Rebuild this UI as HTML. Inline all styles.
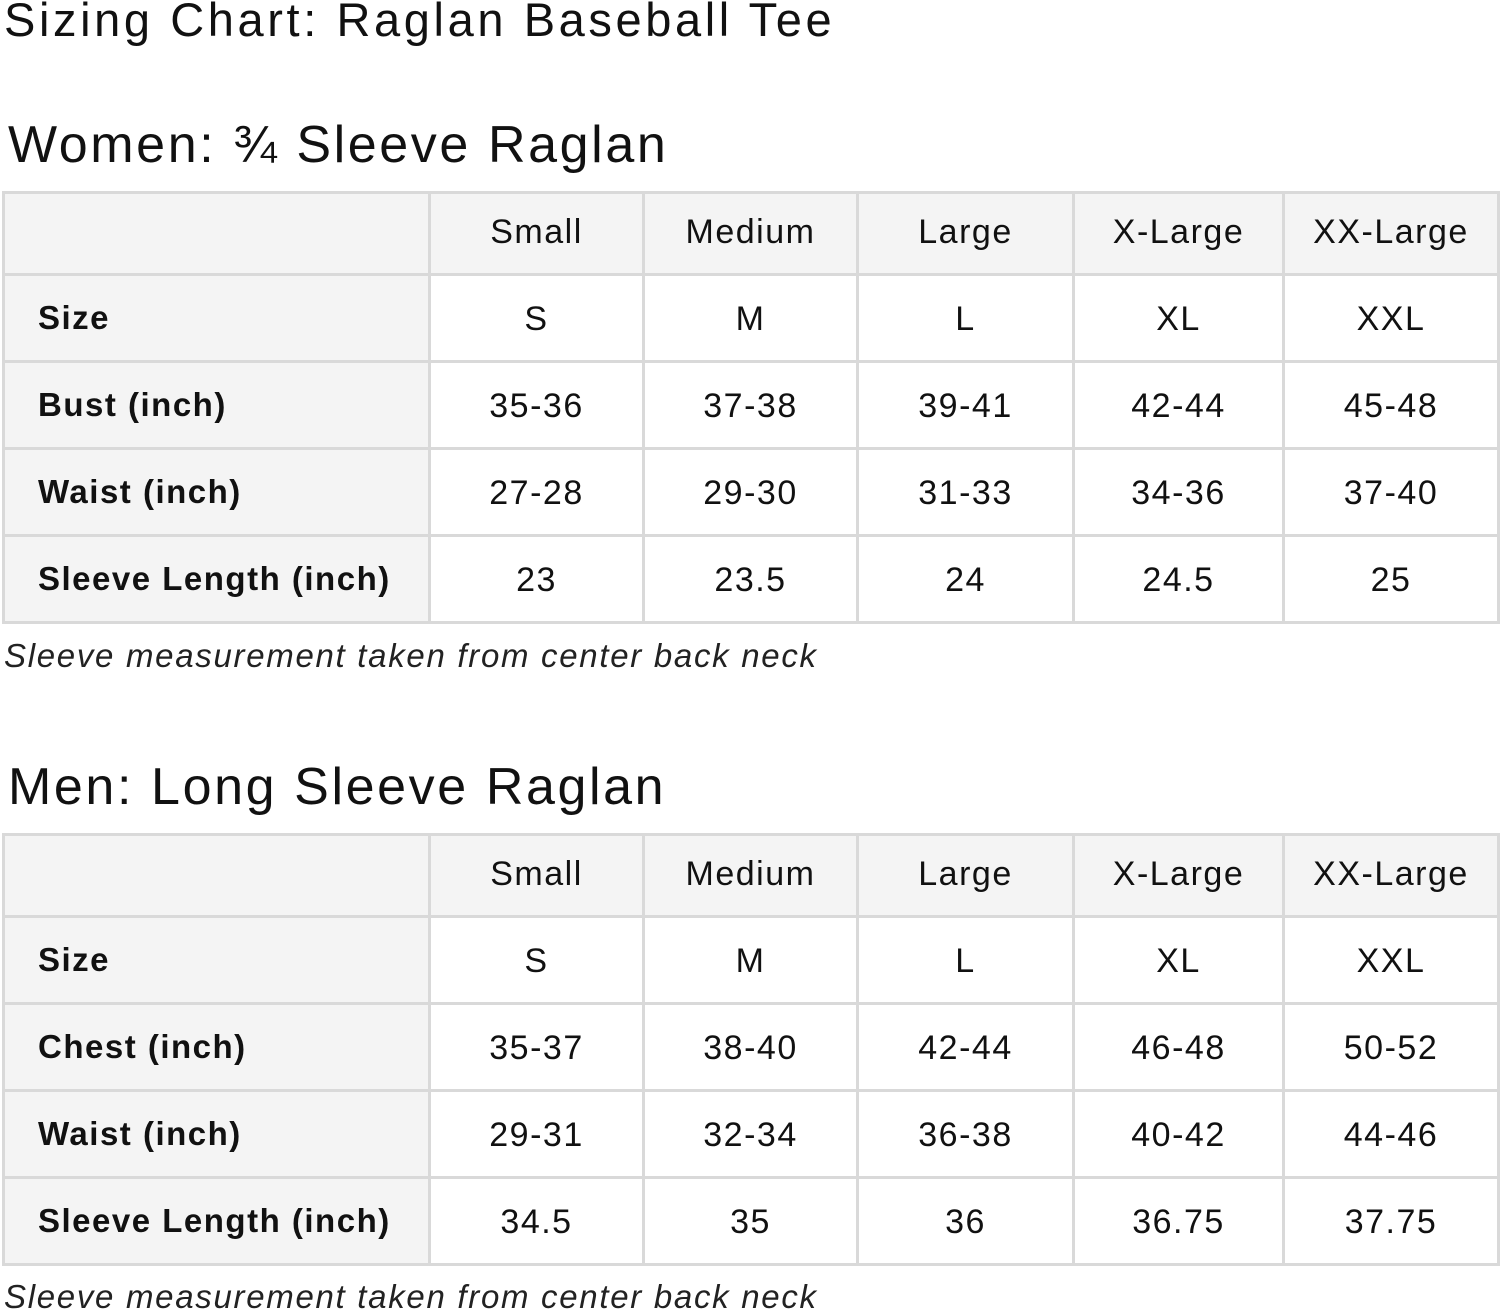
<!DOCTYPE html>
<html><head><meta charset="utf-8"><style>
body{margin:0;width:1500px;height:1315px;background:#fff;position:relative;overflow:hidden;font-family:"Liberation Sans","DejaVu Sans",sans-serif;color:#111}
.t{position:absolute;white-space:nowrap}
table{position:absolute;left:2px;border-collapse:collapse;table-layout:fixed;width:1495px}
td{border:3px solid #d9d9d9;text-align:center;font-size:34px;padding:0;height:81px;letter-spacing:1.5px}
tr:first-child td{background:#f4f4f4;height:70px;padding-bottom:6px}
td:first-child{background:#f4f4f4;text-align:left;padding-left:33px;font-weight:bold;font-size:33px}
tr td:not(:first-child){padding-top:3px}
.f{font-style:italic;font-size:33px;color:#222;letter-spacing:1.7px}
</style></head><body>
<div class="t" style="left:4px;top:-8px;font-size:47px;letter-spacing:3.6px">Sizing Chart: Raglan Baseball Tee</div>
<div class="t" style="left:8px;top:115px;font-size:52px;letter-spacing:2.6px">Women: ¾ Sleeve Raglan</div>
<table style="top:191px">
<colgroup><col style="width:426px"><col style="width:214px"><col style="width:214px"><col style="width:216px"><col style="width:210px"><col style="width:215px"></colgroup>
<tr><td></td><td>Small</td><td>Medium</td><td>Large</td><td>X-Large</td><td>XX-Large</td></tr>
<tr><td>Size</td><td>S</td><td>M</td><td>L</td><td>XL</td><td>XXL</td></tr>
<tr><td>Bust (inch)</td><td>35-36</td><td>37-38</td><td>39-41</td><td>42-44</td><td>45-48</td></tr>
<tr><td>Waist (inch)</td><td>27-28</td><td>29-30</td><td>31-33</td><td>34-36</td><td>37-40</td></tr>
<tr><td>Sleeve Length (inch)</td><td>23</td><td>23.5</td><td>24</td><td>24.5</td><td>25</td></tr>
</table>
<div class="t f" style="left:4px;top:637px">Sleeve measurement taken from center back neck</div>
<div class="t" style="left:8px;top:757px;font-size:52px;letter-spacing:2.6px">Men: Long Sleeve Raglan</div>
<table style="top:833px">
<colgroup><col style="width:426px"><col style="width:214px"><col style="width:214px"><col style="width:216px"><col style="width:210px"><col style="width:215px"></colgroup>
<tr><td></td><td>Small</td><td>Medium</td><td>Large</td><td>X-Large</td><td>XX-Large</td></tr>
<tr><td>Size</td><td>S</td><td>M</td><td>L</td><td>XL</td><td>XXL</td></tr>
<tr><td>Chest (inch)</td><td>35-37</td><td>38-40</td><td>42-44</td><td>46-48</td><td>50-52</td></tr>
<tr><td>Waist (inch)</td><td>29-31</td><td>32-34</td><td>36-38</td><td>40-42</td><td>44-46</td></tr>
<tr><td>Sleeve Length (inch)</td><td>34.5</td><td>35</td><td>36</td><td>36.75</td><td>37.75</td></tr>
</table>
<div class="t f" style="left:4px;top:1278px">Sleeve measurement taken from center back neck</div>
</body></html>
